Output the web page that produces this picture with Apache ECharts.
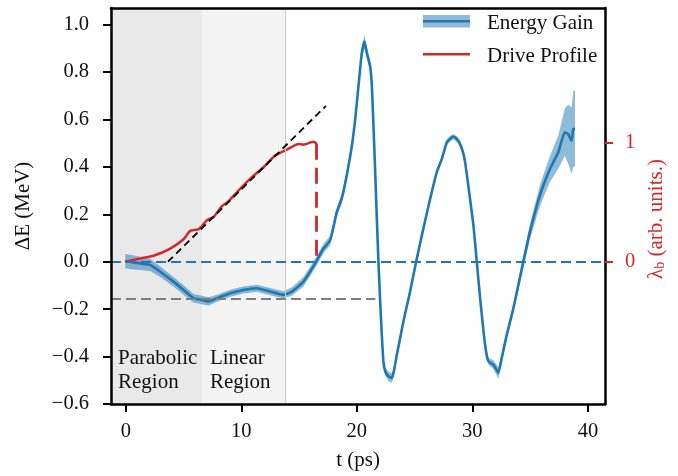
<!DOCTYPE html>
<html>
<head>
<meta charset="utf-8">
<script src="https://cdn.jsdelivr.net/npm/echarts@6/dist/echarts.min.js"></script>
<style>html,body{margin:0;padding:0;background:#fff}#c{width:678px;height:476px}</style>
</head>
<body>
<div id="c"></div>
<script>
// ---- data ----
const tGain = [-0.04,0.5,1.25,2.12,2.98,4.13,5.0,5.87,6.59,7.16,7.89,9.04,10.19,11.35,12.5,13.65,14.38,15.38,16.39,17.11,17.69,18.27,18.69,19.12,19.57,19.86,20.14,20.43,20.66,20.87,21.15,21.3,21.44,21.58,21.73,21.87,22.02,22.16,22.3,22.45,22.73,23.03,23.17,23.31,23.46,23.75,24.03,24.61,25.13,25.76,26.34,26.92,27.35,27.79,28.1,28.36,28.7,28.94,29.2,29.37,29.6,29.8,30.09,30.38,30.67,31.1,31.38,31.82,32.25,32.54,32.98,33.55,34.41,34.98,35.85,36.72,37.44,38.0,38.3,38.59,38.73,38.88];
const gain = [0.003,-0.002,-0.007,-0.014,-0.042,-0.084,-0.119,-0.154,-0.161,-0.168,-0.154,-0.133,-0.119,-0.112,-0.126,-0.14,-0.126,-0.084,-0.007,0.056,0.09,0.21,0.266,0.363,0.489,0.601,0.741,0.881,0.928,0.88,0.825,0.741,0.573,0.39,0.182,0,-0.168,-0.308,-0.42,-0.462,-0.483,-0.49,-0.47,-0.434,-0.392,-0.322,-0.252,-0.126,0,0.14,0.264,0.378,0.433,0.504,0.52,0.527,0.515,0.496,0.46,0.42,0.34,0.264,0.154,0,-0.154,-0.35,-0.42,-0.434,-0.469,-0.406,-0.308,-0.196,0,0.126,0.28,0.392,0.462,0.546,0.538,0.51,0.559,0.562];
const gainErr = [0.03,0.03,0.028,0.025,0.022,0.02,0.02,0.018,0.018,0.018,0.015,0.015,0.015,0.015,0.015,0.015,0.018,0.02,0.02,0.02,0.02,0.02,0.02,0.02,0.02,0.02,0.022,0.025,0.03,0.025,0.02,0.015,0.012,0.012,0.012,0.012,0.012,0.012,0.015,0.018,0.02,0.02,0.018,0.015,0.012,0.012,0.012,0.012,0.012,0.012,0.012,0.012,0.012,0.012,0.012,0.012,0.012,0.012,0.012,0.012,0.012,0.012,0.012,0.012,0.012,0.012,0.015,0.018,0.025,0.018,0.015,0.018,0.025,0.032,0.045,0.055,0.07,0.1,0.125,0.14,0.16,0.16];
const tDrive = [-0.04,1.54,2.4,3.85,5.0,5.58,6.3,7.02,7.6,8.32,8.75,9.9,10.92,11.92,12.93,13.94,14.95,15.38,16.25,16.54];
const drive = [0,0.034,0.05,0.111,0.189,0.26,0.273,0.349,0.377,0.469,0.497,0.614,0.712,0.796,0.894,0.944,0.992,0.986,1.011,0.994];
const xTicks = [0,10,20,30,40];
const yTicks = [-0.6,-0.4,-0.2,0,0.2,0.4,0.6,0.8,1.0];
const lamTicks = [0,1];
const regionEdges = [6.59,13.8];
const regionNames = ['Parabolic\nRegion','Linear\nRegion'];
const minLevel = -0.158, minLevelEnd = 21.6;
const fitStart = [3.65,0], fitEnd = [17.32,0.657];
const driveCut = 16.5;

// ---- axis ranges ----
const xMin = -1.28, xMax = 41.48, yMin = -0.6, yMax = 1.07;
const lamScale = 0.5006; // MeV per lambda unit on the plot

const FONT = '"Liberation Serif", serif';
const TXT = '#111';
const BLUE = '#1f77b4', RED = '#d62728';
const fmtNum = (v, d) => { const s = (+v).toFixed(d); return s.replace('-', '\u2212'); };

const chart = echarts.init(document.getElementById('c'), null, {renderer:'canvas'});
const axisLineStyle = {color:'#000', width:2.5};
const regionLabel = (px) => ({show:true, position:[px,338], fontFamily:FONT, fontSize:21, color:TXT, lineHeight:24, align:'left', verticalAlign:'top'});

chart.setOption({
  animation:false,
  backgroundColor:'#fff',
  grid:{left:111, right:73, top:8, bottom:70},
  xAxis:[{
    type:'value', min:xMin, max:xMax, position:'bottom', z:10,
    axisLine:{show:true, onZero:false, lineStyle:axisLineStyle},
    axisTick:{show:true, customValues:xTicks, length:8, lineStyle:{color:'#000', width:2}},
    axisLabel:{customValues:xTicks, margin:17, fontFamily:FONT, fontSize:20.5, color:TXT, formatter:v=>fmtNum(v,0)},
    splitLine:{show:false},
    name:'t (ps)', nameLocation:'middle', nameGap:46,
    nameTextStyle:{fontFamily:FONT, fontSize:21, color:TXT}
  },{
    type:'value', min:xMin, max:xMax, position:'top', z:10,
    axisLine:{show:true, onZero:false, lineStyle:axisLineStyle},
    axisTick:{show:false}, axisLabel:{show:false}, splitLine:{show:false}
  }],
  yAxis:[{
    type:'value', min:yMin, max:yMax, position:'left', z:10,
    axisLine:{show:true, onZero:false, lineStyle:axisLineStyle},
    axisTick:{show:true, customValues:yTicks, length:8, lineStyle:{color:'#000', width:2}},
    axisLabel:{customValues:yTicks, margin:22, fontFamily:FONT, fontSize:20.5, color:TXT, formatter:v=>fmtNum(v,1)},
    splitLine:{show:false},
    name:'\u0394E (MeV)', nameLocation:'middle', nameGap:77, nameRotate:90,
    nameTextStyle:{fontFamily:FONT, fontSize:21, color:TXT}
  },{
    type:'value', min:yMin/lamScale, max:yMax/lamScale, position:'right', z:10,
    axisLine:{show:true, onZero:false, lineStyle:axisLineStyle},
    axisTick:{show:true, customValues:lamTicks, length:8, lineStyle:{color:RED, width:2}},
    axisLabel:{customValues:lamTicks, margin:20, fontFamily:FONT, fontSize:20.5, color:RED, formatter:v=>fmtNum(v,0)},
    splitLine:{show:false},
    name:'{a|\u03bb}{b|b}{a| (arb. units.)}', nameLocation:'middle', nameGap:40, nameRotate:90,
    nameTextStyle:{fontFamily:FONT, fontSize:21, color:RED, padding:[0,26,0,0],
      rich:{a:{fontFamily:FONT, fontSize:21, color:RED}, b:{fontFamily:FONT, fontSize:14, color:RED, padding:[8,0,0,0]}}}
  }],
  graphic:[
    {type:'rect', shape:{x:423, y:15, width:47, height:12.5}, style:{fill:'rgba(31,119,180,0.5)'}, z:20},
    {type:'line', shape:{x1:423, y1:21.3, x2:470, y2:21.3}, style:{stroke:BLUE, lineWidth:2.5}, z:21},
    {type:'line', shape:{x1:423, y1:54.3, x2:470, y2:54.3}, style:{stroke:RED, lineWidth:2.5}, z:21},
    {type:'text', x:487, y:23, style:{text:'Energy Gain', font:'21px "Liberation Serif", serif', fill:TXT, verticalAlign:'middle'}, z:21},
    {type:'text', x:487, y:56.5, style:{text:'Drive Profile', font:'21px "Liberation Serif", serif', fill:TXT, verticalAlign:'middle'}, z:21}
  ],
  series:[
    { // shaded regions
      type:'line', data:[], z:1, silent:true,
      markArea:{silent:true,
        label:{show:true, fontFamily:FONT, fontSize:21, color:TXT},
        data:[
          [{xAxis:xMin, itemStyle:{color:'#e9e9e9'}, label:regionLabel(7), name:regionNames[0]},{xAxis:regionEdges[0]}],
          [{xAxis:regionEdges[0], itemStyle:{color:'#f4f4f4'}, label:regionLabel(8), name:regionNames[1]},{xAxis:regionEdges[1]}]
        ]},
      markLine:{silent:true, symbol:'none', label:{show:false},
        lineStyle:{color:'#c8c8c8', width:1, type:'solid'},
        data:[{xAxis:regionEdges[1]}]}
    },
    { // uncertainty band
      type:'custom', z:2, silent:true,
      data:[[tGain[0], gain[0]]],
      renderItem:function(params, api){
        const pts = [];
        for (let i=0;i<tGain.length;i++) pts.push(api.coord([tGain[i], gain[i]+gainErr[i]]));
        for (let i=tGain.length-1;i>=0;i--) pts.push(api.coord([tGain[i], gain[i]-gainErr[i]]));
        return {type:'polygon', shape:{points:pts}, style:{fill:'rgba(31,119,180,0.5)'}};
      }
    },
    { // reference lines
      type:'line', data:[], z:3, silent:true,
      markLine:{silent:true, symbol:'none', label:{show:false},
        data:[
          {yAxis:0, lineStyle:{color:BLUE, width:2.2, type:[10,5]}},
          [{coord:[xMin, minLevel], lineStyle:{color:'#7f7f7f', width:2.2, type:[10,5]}},{coord:[minLevelEnd, minLevel]}],
          [{coord:fitStart, lineStyle:{color:'#000', width:1.8, type:[7,4.5]}},{coord:fitEnd}]
        ]}
    },
    { // energy gain
      type:'line', name:'Energy Gain', z:4, showSymbol:false, smooth:0.15,
      data:tGain.map((t,i)=>[t,gain[i]]),
      lineStyle:{color:BLUE, width:2.6}
    },
    { // drive profile
      type:'line', name:'Drive Profile', yAxisIndex:1, z:4, showSymbol:false, smooth:0.2,
      data:tDrive.map((t,i)=>[t,drive[i]]),
      lineStyle:{color:RED, width:2.5},
      markLine:{silent:true, symbol:'none', label:{show:false},
        data:[[{coord:[driveCut, drive[drive.length-1]], lineStyle:{color:RED, width:2.8, type:[16,8]}},{coord:[driveCut, 0]}]]}
    }
  ]
});
</script>
</body>
</html>
